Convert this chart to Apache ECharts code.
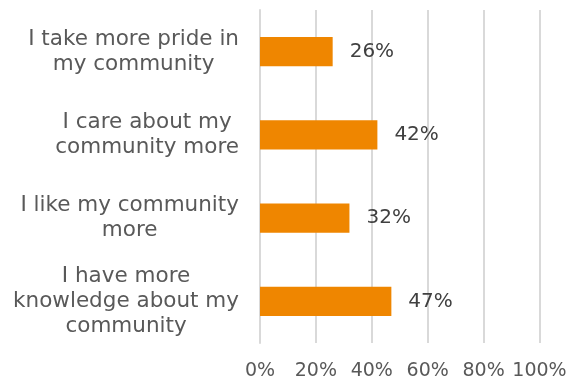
<!DOCTYPE html>
<html>
<head>
<meta charset="utf-8">
<script src="https://cdn.jsdelivr.net/npm/echarts@6/dist/echarts.min.js"></script>
<style>
  html, body { margin: 0; padding: 0; background: #fff; }
  #chart { width: 571px; height: 381px; }
</style>
</head>
<body>
<div id="chart"></div>
<script>
// Survey statements (top to bottom) and share of respondents agreeing (%)
var categories = [
  'I take more pride in\nmy community',
  'I care about my\ncommunity more',
  'I like my community\nmore',
  'I have more\nknowledge about my\ncommunity'
];
var values = [26, 42, 32, 47];
var tickValues = [0, 20, 40, 60, 80, 100];

var FONT = 'DejaVu Sans';
var chart = echarts.init(document.getElementById('chart'), null, { renderer: 'canvas' });

chart.setOption({
  animation: false,
  backgroundColor: '#ffffff',
  grid: { left: 260, right: 31.5, top: 10, bottom: 38, containLabel: false },
  xAxis: {
    type: 'value',
    min: tickValues[0],
    max: tickValues[tickValues.length - 1],
    interval: tickValues[1] - tickValues[0],
    axisLine: { show: false },
    axisTick: { show: false },
    splitLine: { show: true, lineStyle: { color: '#d9d9d9', width: 2 } },
    axisLabel: {
      formatter: '{value}%',
      fontFamily: FONT,
      fontSize: 19,
      color: '#595959',
      margin: 19
    }
  },
  yAxis: {
    type: 'category',
    data: categories,
    inverse: true,
    axisLine: { show: true, lineStyle: { color: '#d9d9d9', width: 2 } },
    axisTick: { show: false },
    axisLabel: {
      margin: 21,
      align: 'right',
      formatter: function (v) {
        return v.split('\n').map(function (line) { return '{c|' + line + '}'; }).join('\n');
      },
      rich: {
        c: {
          align: 'center',
          fontFamily: FONT,
          fontSize: 21.5,
          lineHeight: 25,
          color: '#595959'
        }
      }
    }
  },
  series: [{
    type: 'bar',
    data: values,
    barCategoryGap: '65%',
    itemStyle: { color: '#ef8600' },
    label: {
      show: true,
      position: 'right',
      distance: 17,
      formatter: '{c}%',
      fontFamily: FONT,
      fontSize: 20,
      color: '#404040'
    }
  }]
});
</script>
</body>
</html>
